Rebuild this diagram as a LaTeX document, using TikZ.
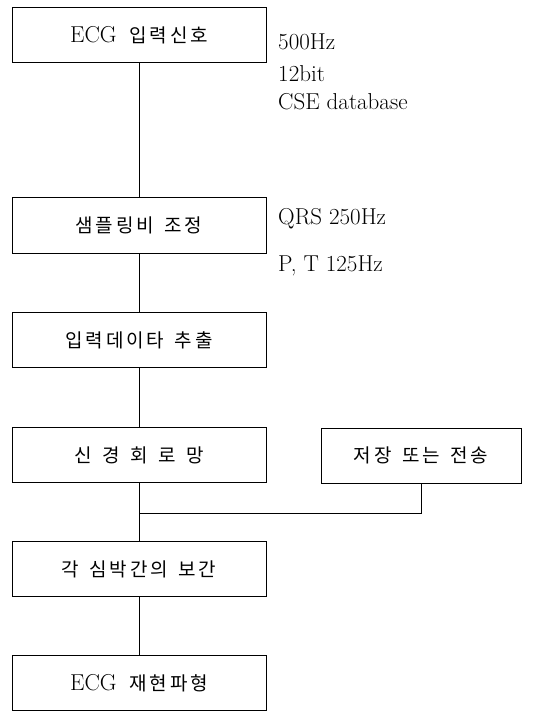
\documentclass[tikz,border=0pt]{standalone}
\usepackage{fontspec}
\usepackage{tikz}
\newfontfamily\kr[LetterSpace=15]{Noto Sans CJK KR}
\newcommand{\kor}[1]{{\kr\fontsize{19}{23}\selectfont #1}}
\newcommand{\gap}{\hspace{0.55em}}

\begin{document}
\begin{tikzpicture}[x=1pt, y=-1pt, font=\fontsize{23}{27}\selectfont,
		box/.style={draw, line width=1pt, minimum width=254pt, minimum height=55pt, inner sep=0pt},
		note/.style={anchor=base west, inner sep=0pt},
		link/.style={line width=0.8pt}]
			
			\useasboundingbox (0,0) rectangle (542,711);
			
			% Input signal
			\node[box] (ecgin) at (139, 35.5) {ECG\gap\kor{입력신호}};
			\node[note] (rate) at (278, 50) {500Hz};
			\node[note] (bits) at (278, 82) {12bit};
			\node[note] (dbase) at (278, 110) {CSE database};
			
			% Resampling
			\node[box] (resamp) at (139, 225.5) {\kor{샘플링비\gap 조정}};
			\node[note] (qrs) at (278, 225) {QRS 250Hz};
			\node[note] (pt) at (278, 271) {P, T 125Hz};
			
			% Extraction
			\node[box] (extract) at (139, 340) {\kor{입력데이타\gap 추출}};
			
			% Neural network and storage
			\node[box] (neural) at (139, 455) {\kor{신\gap 경\gap 회\gap 로\gap 망}};
			\node[box, minimum width=200pt] (store) at (421, 455.5) {\kor{저장\gap 또는\gap 전송}};
			
			% Interpolation
			\node[box] (interp) at (139, 569) {\kor{각\gap 심박간의\gap 보간}};
			
			% Output waveform
			\node[box] (ecgout) at (139, 683) {ECG\gap\kor{재현파형}};
			
			\coordinate (join) at (139, 513);
			
			\draw[link] (ecgin) -- (resamp);
			\draw[link] (resamp) -- (extract);
			\draw[link] (extract) -- (neural);
			\draw[link] (neural) -- (interp);
			\draw[link] (store.south) |- (join);
			\draw[link] (interp) -- (ecgout);
			
		\end{tikzpicture}
\end{document}
